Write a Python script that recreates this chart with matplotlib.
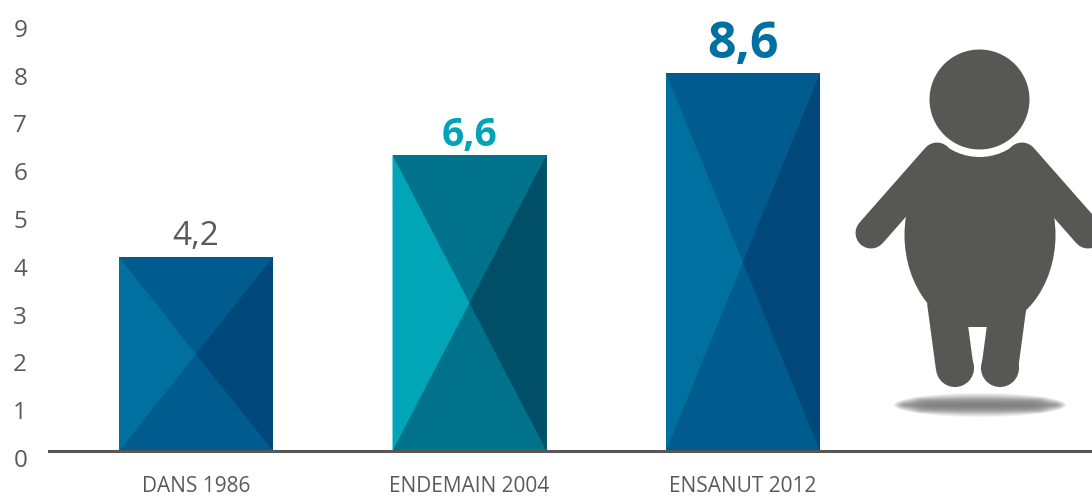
import matplotlib
matplotlib.use("Agg")
import matplotlib.pyplot as plt
from matplotlib.patches import Circle, Ellipse, Polygon, Rectangle
from matplotlib.lines import Line2D

categories = ["DANS 1986", "ENDEMAIN 2004", "ENSANUT 2012"]
bar_tops = [4.2, 6.34, 8.05]
value_labels = ["4,2", "6,6", "8,6"]
yticks = list(range(10))

GRAY = "#575756"
TEXT = "#5a5a5c"
mid_colors = ["#005b8e", "#00728c", "#005b8e"]
left_colors = ["#0070a0", "#00a6b8", "#0070a0"]
right_colors = ["#00477a", "#004f66", "#00477a"]
label_colors = [TEXT, "#00a3b8", "#006fa1"]
label_sizes = [24, 28, 36]
label_weights = ["normal", "bold", "bold"]
label_gaps = [3, 0, 2.5]

W, H = 1092, 497
fig = plt.figure(figsize=(W / 100, H / 100), dpi=100)
plt.rcParams["font.family"] = "Open Sans"

# axes: left edge at the baseline start; y scale 47.8 px per unit, 0 at px 458
left_px, bottom_px = 48, 468
ax = fig.add_axes([left_px / W, (H - bottom_px) / H, (W - left_px) / W, bottom_px / H])
ax.set_ylim((458 - bottom_px) / 47.8, 458 / 47.8)
step = 273.5
ax.set_xlim((left_px - 196) / step, (W - 196) / step)
ax.patch.set_visible(False)
for s in ax.spines.values():
    s.set_visible(False)

baseline = (458 - 451) / 47.8
width = 154 / step
xs = range(len(categories))
for i in xs:
    top = bar_tops[i]
    l, r = i - width / 2, i + width / 2
    cy = (top + baseline) / 2
    ax.bar(i, top - baseline, width, bottom=baseline, color=mid_colors[i], linewidth=0, zorder=2)
    ax.fill([l, i, l], [baseline, cy, top], color=left_colors[i], linewidth=0, zorder=3)
    ax.fill([r, i, r], [baseline, cy, top], color=right_colors[i], linewidth=0, zorder=3)
    ax.annotate(value_labels[i], (i, top), xytext=(0, label_gaps[i]), textcoords="offset points",
                ha="center", va="bottom", fontsize=label_sizes[i], color=label_colors[i],
                fontweight=label_weights[i])
ax.axhline(baseline, color=GRAY, linewidth=2.2, zorder=4)

ax.set_yticks(yticks)
ax.set_xticks(list(xs), categories)
ax.tick_params(axis="y", length=0, pad=15, labelsize=17.5, labelcolor=TEXT)
ax.tick_params(axis="x", length=0, pad=5.5, labelsize=15, labelcolor=TEXT)

# pictogram on a pixel-space overlay
ov = fig.add_axes([0, 0, 1, 1], xlim=(0, W), ylim=(H, 0))
ov.axis("off")
ov.patch.set_visible(False)
for k in range(16):
    ov.add_patch(Ellipse((980, 405), 172 - k * 1.5, 24 - k * 1.4, color="#7a7a7a", alpha=0.085, linewidth=0))
    ov.add_line(Line2D([918 + k, 1042 - k], [405, 405], color="#7a7a7a", alpha=0.05,
                       linewidth=(16 - k) * 0.72, solid_capstyle="round"))
torso = Ellipse((980, 235), 151, 190, color=GRAY, linewidth=0)
ov.add_patch(torso)
torso.set_clip_path(Rectangle((850, 130), 240, 197, transform=ov.transData))
ov.add_patch(Polygon([(927, 303), (936, 370), (974, 370), (968, 325)], color=GRAY, linewidth=0))
ov.add_patch(Polygon([(1027, 303), (1018, 370), (981, 370), (987, 325)], color=GRAY, linewidth=0))
ov.add_patch(Circle((955, 368), 19, color=GRAY, linewidth=0))
ov.add_patch(Circle((1000, 368), 19, color=GRAY, linewidth=0))
ov.add_patch(Polygon([(937, 145), (1022, 145), (1022, 230), (937, 230)], color=GRAY, linewidth=0))
ov.add_line(Line2D([937, 871], [158, 233], color=GRAY, linewidth=31 * 0.72, solid_capstyle="round"))
ov.add_line(Line2D([1022, 1088], [158, 233], color=GRAY, linewidth=31 * 0.72, solid_capstyle="round"))
ov.add_patch(Circle((979.5, 99.5), 57.5, color="white", linewidth=0))
ov.add_patch(Circle((979.5, 99.5), 50, color=GRAY, linewidth=0))

fig.savefig("out.png", dpi=100)
